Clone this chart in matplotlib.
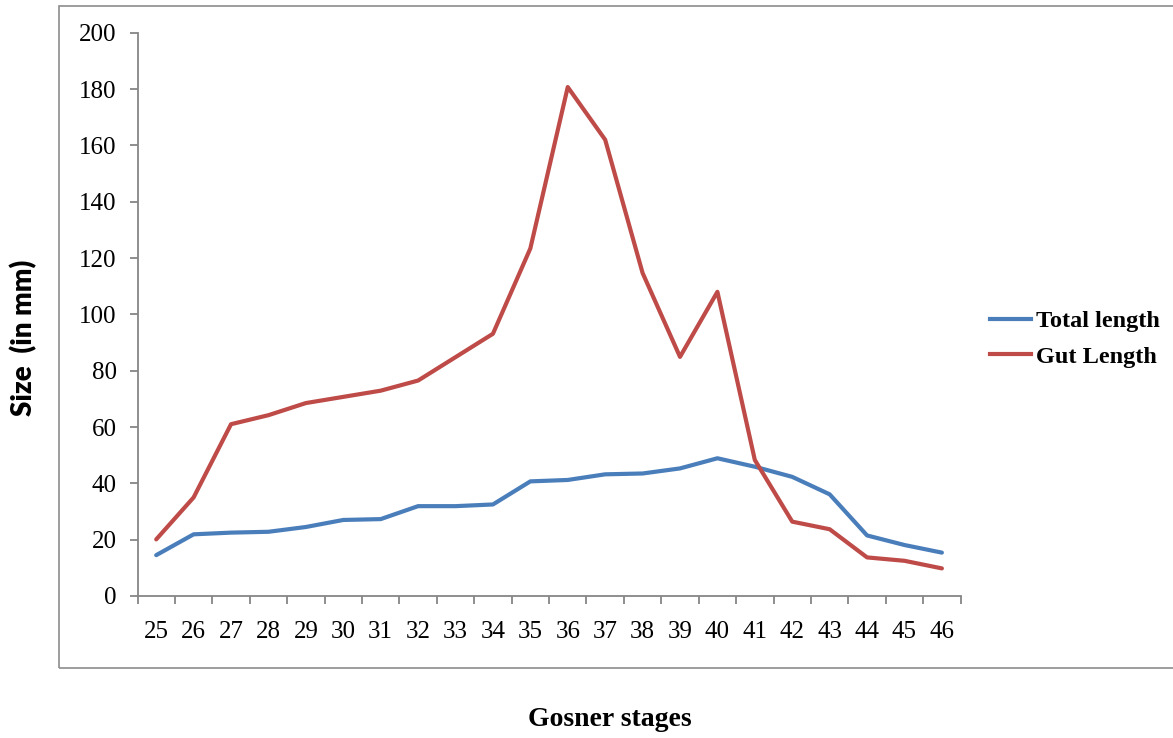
import matplotlib
matplotlib.use("Agg")
import matplotlib.pyplot as plt
from matplotlib.patches import Rectangle
from matplotlib.lines import Line2D

# Gosner stages and measured sizes (mm)
stages = [25, 26, 27, 28, 29, 30, 31, 32, 33, 34, 35, 36, 37, 38, 39, 40, 41, 42, 43, 44, 45, 46]
total_length = [14.5, 21.9, 22.5, 22.8, 24.5, 27.0, 27.3, 31.9, 31.9, 32.5, 40.7, 41.2,
                43.2, 43.5, 45.3, 48.9, 45.9, 42.3, 36.1, 21.5, 18.1, 15.4]
gut_length = [20.1, 35.0, 61.0, 64.2, 68.5, 70.7, 72.9, 76.5, 84.8, 93.1, 123.4, 180.7,
              162.0, 114.7, 84.9, 108.0, 48.3, 26.4, 23.7, 13.7, 12.5, 9.8]
y_ticks = list(range(0, 201, 20))

BLUE = "#4a7ebb"
RED = "#be4b48"
GREY = "#868686"
SERIF = ["Liberation Serif", "DejaVu Serif"]

W, H = 1173, 738
fig = plt.figure(figsize=(W / 100, H / 100), dpi=100)

# outer chart frame
fig.patches.append(Rectangle((59 / W, 1 - 668 / H), (1200 - 59) / W, (668 - 6) / H,
                             transform=fig.transFigure, fill=False,
                             edgecolor="#8c8c8c", linewidth=1.2))

ax = fig.add_axes([137.5 / W, 1 - 596 / H, (960.6 - 137.5) / W, (596 - 32.7) / H])

x = list(range(len(stages)))
ax.plot(x, total_length, color=BLUE, linewidth=3.0, solid_capstyle="round",
        solid_joinstyle="round", label="Total length")
ax.plot(x, gut_length, color=RED, linewidth=3.0, solid_capstyle="round",
        solid_joinstyle="round", label="Gut Length")

ax.set_xlim(-0.5, len(stages) - 0.5)
ax.set_ylim(0, 200)

for side in ("top", "right"):
    ax.spines[side].set_visible(False)
for side in ("left", "bottom"):
    ax.spines[side].set_color(GREY)
    ax.spines[side].set_linewidth(1.3)

ax.set_yticks(y_ticks)
ax.set_yticklabels([str(v) for v in y_ticks], fontfamily=SERIF, fontsize=18)
ax.tick_params(axis="y", direction="out", length=6, width=1.3, color=GREY, pad=9)

ax.set_xticks(x)
ax.set_xticklabels([str(s) for s in stages], fontfamily=SERIF, fontsize=18)
ax.tick_params(axis="x", which="major", length=0, pad=18)
ax.set_xticks([i - 0.5 for i in range(len(stages) + 1)], minor=True)
ax.tick_params(axis="x", which="minor", direction="out", length=6, width=1.3, color=GREY)

fig.text(24 / W, 1 - 338 / H, "Size  (in mm)", rotation=90, ha="center", va="center",
         fontfamily=["Lato", "DejaVu Sans"], fontweight="heavy", fontsize=20)
fig.text(610 / W, 1 - 719 / H, "Gosner stages", ha="center", va="center",
         fontfamily=SERIF, fontweight="bold", fontsize=20)

handles = [Line2D([], [], color=BLUE, linewidth=3.0), Line2D([], [], color=RED, linewidth=3.0)]
fig.legend(handles, ["Total length", "Gut Length"], loc="center left",
           bbox_to_anchor=(990 / W, 1 - 339 / H), frameon=False,
           prop={"family": SERIF, "weight": "bold", "size": 17.5},
           handlelength=1.7, handletextpad=0.2, labelspacing=0.55, borderaxespad=0,
           borderpad=0)

fig.savefig("out.png", dpi=100, facecolor="white")
